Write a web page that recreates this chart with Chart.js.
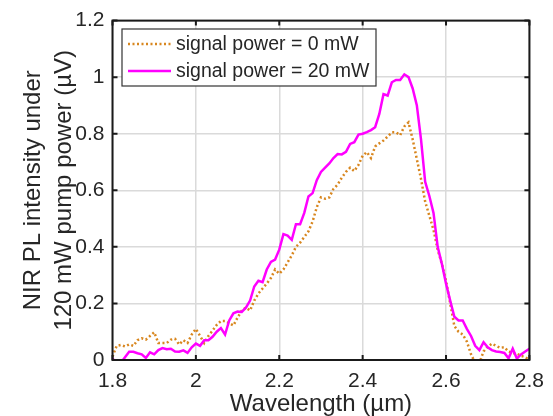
<!DOCTYPE html>
<html>
<head>
<meta charset="utf-8">
<script src="https://cdn.jsdelivr.net/npm/chart.js@4.4.1/dist/chart.umd.min.js"></script>
<style>
  html, body { margin: 0; padding: 0; background: #fff; }
</style>
</head>
<body>
<canvas id="myChart" width="553" height="416"></canvas>
<script>
// wavelength in µm
const wavelength = [
  1.80, 1.81, 1.82, 1.83, 1.84, 1.85, 1.86, 1.87, 1.88, 1.89,
  1.90, 1.91, 1.92, 1.93, 1.94, 1.95, 1.96, 1.97, 1.98, 1.99,
  2.00, 2.01, 2.02, 2.03, 2.04, 2.05, 2.06, 2.07, 2.08, 2.09,
  2.10, 2.11, 2.12, 2.13, 2.14, 2.15, 2.16, 2.17, 2.18, 2.19,
  2.20, 2.21, 2.22, 2.23, 2.24, 2.25, 2.26, 2.27, 2.28, 2.29,
  2.30, 2.31, 2.32, 2.33, 2.34, 2.35, 2.36, 2.37, 2.38, 2.39,
  2.40, 2.41, 2.42, 2.43, 2.44, 2.45, 2.46, 2.47, 2.48, 2.49,
  2.50, 2.51, 2.52, 2.53, 2.54, 2.55, 2.56, 2.57, 2.58, 2.59,
  2.60, 2.61, 2.62, 2.63, 2.64, 2.65, 2.66, 2.67, 2.68, 2.69,
  2.70, 2.71, 2.72, 2.73, 2.74, 2.75, 2.76, 2.77, 2.78, 2.79,
  2.80
];

// signal power = 0 mW
const power0mW = [
  0.012, 0.050, 0.053, 0.048, 0.055, 0.050, 0.070, 0.077, 0.072, 0.085,
  0.098, 0.060, 0.060, 0.060, 0.072, 0.075, 0.055, 0.070, 0.060, 0.090,
  0.110, 0.085, 0.060, 0.085, 0.104, 0.124, 0.138, 0.138, 0.130, 0.122,
  0.150, 0.175, 0.185, 0.175, 0.210, 0.235, 0.253, 0.270, 0.290, 0.320,
  0.305, 0.320, 0.345, 0.370, 0.400, 0.415, 0.435, 0.455, 0.490, 0.540,
  0.575, 0.570, 0.575, 0.605, 0.620, 0.645, 0.665, 0.680, 0.668, 0.690,
  0.722, 0.735, 0.714, 0.755, 0.766, 0.776, 0.790, 0.805, 0.805, 0.795,
  0.826, 0.840, 0.780, 0.710, 0.640, 0.560, 0.510, 0.460, 0.390, 0.340,
  0.280, 0.200, 0.120, 0.100, 0.090, 0.065, 0.020, -0.010, -0.010, 0.030,
  0.047, 0.058, 0.050, 0.043, 0.045, 0.030, 0.025, 0.022, 0.015, 0.010,
  0.000
];

// signal power = 20 mW
const power20mW = [
  0.005, -0.010, -0.010, 0.010, 0.029, 0.029, 0.024, 0.020, 0.007, 0.027,
  0.020, 0.035, 0.042, 0.038, 0.040, 0.030, 0.029, 0.034, 0.025, 0.045,
  0.058, 0.050, 0.070, 0.070, 0.082, 0.100, 0.113, 0.090, 0.140, 0.165,
  0.171, 0.170, 0.185, 0.210, 0.260, 0.280, 0.275, 0.320, 0.347, 0.355,
  0.390, 0.445, 0.440, 0.425, 0.480, 0.480, 0.520, 0.578, 0.590, 0.636,
  0.665, 0.680, 0.695, 0.714, 0.728, 0.727, 0.736, 0.764, 0.770, 0.797,
  0.800, 0.806, 0.813, 0.823, 0.870, 0.940, 0.935, 0.982, 0.990, 0.990,
  1.010, 1.000, 0.960, 0.900, 0.780, 0.630, 0.580, 0.520, 0.400, 0.340,
  0.270, 0.210, 0.153, 0.140, 0.140, 0.110, 0.085, 0.050, 0.035, 0.063,
  0.045, 0.035, 0.030, 0.028, 0.025, 0.006, 0.040, 0.005, 0.020, 0.030,
  0.040
];

const seriesLabels = ['signal power = 0 mW', 'signal power = 20 mW'];
const xTitle = 'Wavelength (µm)';
const yTitle = ['NIR PL intensity under', '120 mW pump power (µV)'];

const FONT = '"Liberation Sans", Arial, sans-serif';
const TEXT = '#262626';

function toPoints(values) {
  return values.map((v, i) => ({ x: wavelength[i], y: v }));
}

// box + inward ticks on all four sides, matlab style
const framePlugin = {
  id: 'frame',
  afterDatasetsDraw(chart) {
    const { ctx, chartArea: a, scales } = chart;
    ctx.save();
    ctx.strokeStyle = '#1a1a1a';
    ctx.lineWidth = 2;
    ctx.strokeRect(a.left, a.top, a.right - a.left, a.bottom - a.top);
    const len = 5;
    ctx.beginPath();
    scales.x.ticks.forEach(t => {
      const px = scales.x.getPixelForValue(t.value);
      ctx.moveTo(px, a.bottom); ctx.lineTo(px, a.bottom - len);
      ctx.moveTo(px, a.top); ctx.lineTo(px, a.top + len);
    });
    scales.y.ticks.forEach(t => {
      const py = scales.y.getPixelForValue(t.value);
      ctx.moveTo(a.left, py); ctx.lineTo(a.left + len, py);
      ctx.moveTo(a.right, py); ctx.lineTo(a.right - len, py);
    });
    ctx.stroke();
    ctx.restore();
  }
};

// legend box inside the axes, top left
const legendPlugin = {
  id: 'boxLegend',
  afterDraw(chart) {
    const { ctx } = chart;
    const box = { x: 122, y: 29, w: 254, h: 57 };
    ctx.save();
    ctx.fillStyle = '#fff';
    ctx.fillRect(box.x, box.y, box.w, box.h);
    ctx.strokeStyle = '#333';
    ctx.lineWidth = 1.2;
    ctx.strokeRect(box.x, box.y, box.w, box.h);

    const rows = [44, 71];
    ctx.font = '19.5px ' + FONT;
    ctx.textBaseline = 'middle';
    chart.data.datasets.forEach((ds, i) => {
      const y = rows[i];
      ctx.strokeStyle = ds.borderColor;
      ctx.lineWidth = ds.borderWidth;
      ctx.setLineDash(ds.borderDash || []);
      ctx.beginPath();
      ctx.moveTo(128, y);
      ctx.lineTo(171, y);
      ctx.stroke();
      ctx.setLineDash([]);
      ctx.fillStyle = TEXT;
      ctx.fillText(ds.label, 176, y + 1);
    });
    ctx.restore();
  }
};

const ctx = document.getElementById('myChart');

new Chart(ctx, {
  type: 'line',
  data: {
    datasets: [{
      label: seriesLabels[0],
      data: toPoints(power0mW),
      borderColor: '#d8861e',
      borderWidth: 2.5,
      borderDash: [2, 2.5],
      pointRadius: 0,
      tension: 0,
      order: 1
    }, {
      label: seriesLabels[1],
      data: toPoints(power20mW),
      borderColor: '#ff00ff',
      borderWidth: 2.5,
      pointRadius: 0,
      tension: 0,
      order: 0
    }]
  },
  options: {
    responsive: false,
    animation: false,
    layout: { padding: { left: 0, right: 16.5, top: 20.5, bottom: 0 } },
    plugins: {
      legend: { display: false },
      tooltip: { enabled: false }
    },
    scales: {
      x: {
        type: 'linear',
        min: 1.8,
        max: 2.8,
        afterFit(scale) { scale.height = 56; },
        border: { display: false },
        grid: { color: '#dadada', lineWidth: 1.5, drawTicks: false },
        ticks: {
          stepSize: 0.2,
          padding: 9,
          color: TEXT,
          font: { family: FONT, size: 21 },
          maxRotation: 0,
          callback: v => String(Number(v.toFixed(1)))
        },
        title: {
          display: true,
          text: xTitle,
          color: TEXT,
          font: { family: FONT, size: 24, lineHeight: 1 },
          padding: { top: 0, bottom: 0 }
        }
      },
      y: {
        min: 0,
        max: 1.2,
        afterFit(scale) { scale.width = 112.5; },
        border: { display: false },
        grid: { color: '#dadada', lineWidth: 1.5, drawTicks: false },
        ticks: {
          stepSize: 0.2,
          padding: 8,
          color: TEXT,
          font: { family: FONT, size: 21 },
          callback: v => String(Number(v.toFixed(1)))
        },
        title: {
          display: true,
          text: yTitle,
          color: TEXT,
          font: { family: FONT, size: 24, lineHeight: 1.3 },
          padding: { top: 18, bottom: 0 }
        }
      }
    }
  },
  plugins: [framePlugin, legendPlugin]
});
</script>
</body>
</html>
